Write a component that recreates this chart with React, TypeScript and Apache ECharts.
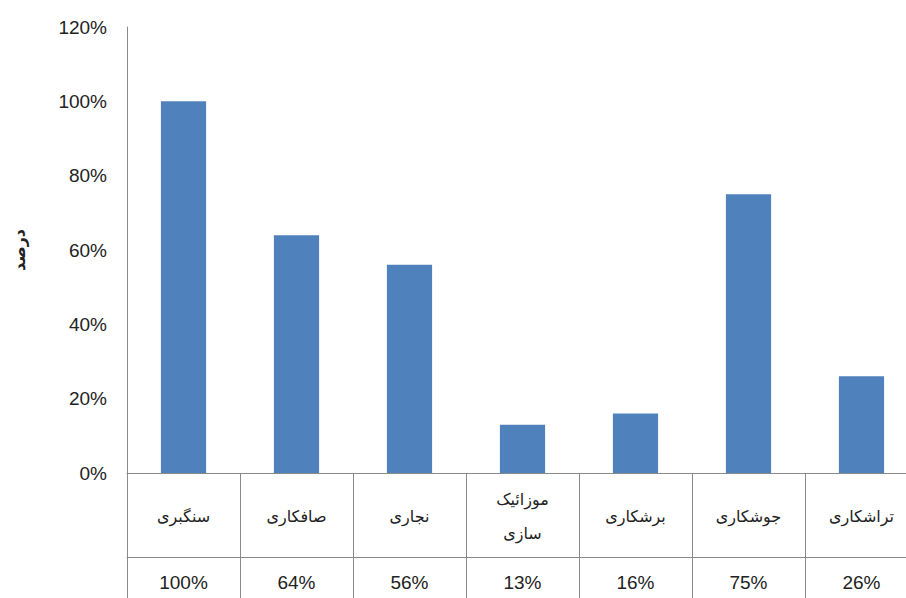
import React, { useEffect, useRef } from "react";
import * as echarts from "echarts";

const categories = ["سنگبری", "صافکاری", "نجاری", "موزائیک\nسازی", "برشکاری", "جوشکاری", "تراشکاری"];
const values = [100, 64, 56, 13, 16, 75, 26];
const yTicks = { min: 0, max: 120, interval: 20 };
const yAxisTitle = "درصد";

export default function App() {
  const ref = useRef<HTMLDivElement>(null);
  useEffect(() => {
    if (!ref.current) return;
    const chart = echarts.init(ref.current, null, { renderer: "svg" });
    const valueLabels = values.map((v) => v + "%");
    chart.setOption({
      animation: false,
      backgroundColor: "#ffffff",
      grid: { left: 127, top: 27, right: 12, bottom: 125, containLabel: false },
      xAxis: [
        {
          type: "category",
          data: categories,
          position: "bottom",
          axisLine: { show: true, lineStyle: { color: "#8a8a8a", width: 1 } },
          axisTick: { show: true, length: 130, lineStyle: { color: "#8a8a8a", width: 1 } },
          axisLabel: {
            interval: 0,
            margin: 43,
            verticalAlign: "middle",
            fontFamily: "DejaVu Sans",
            fontSize: 16,
            lineHeight: 34,
            color: "#222",
          },
        },
        {
          type: "category",
          data: valueLabels,
          position: "bottom",
          offset: 84,
          axisLine: { show: true, lineStyle: { color: "#8a8a8a", width: 1 } },
          axisTick: { show: false },
          axisLabel: {
            interval: 0,
            margin: 25,
            verticalAlign: "middle",
            fontFamily: "Liberation Sans",
            fontSize: 19,
            color: "#222",
          },
        },
      ],
      yAxis: {
        type: "value",
        min: yTicks.min,
        max: yTicks.max,
        interval: yTicks.interval,
        name: yAxisTitle,
        nameLocation: "middle",
        nameGap: 100,
        nameRotate: 90,
        nameTextStyle: { fontFamily: "DejaVu Sans", fontSize: 16, fontWeight: "bold", color: "#222" },
        axisLine: { show: true, lineStyle: { color: "#8a8a8a", width: 1 } },
        axisTick: { show: false },
        splitLine: { show: false },
        axisLabel: {
          formatter: (v: number) => v + "%",
          margin: 20,
          fontFamily: "Liberation Sans",
          fontSize: 19,
          color: "#222",
        },
      },
      series: [
        {
          type: "bar",
          data: values,
          xAxisIndex: 0,
          barWidth: "40%",
          itemStyle: { color: "#4F81BD" },
        },
      ],
    });
    return () => chart.dispose();
  }, []);
  return (
    <div style={{ position: "fixed", left: 0, top: 0, width: 906, height: 598, overflow: "hidden" }}>
      <div ref={ref} style={{ width: 930, height: 598 }} />
    </div>
  );
}
